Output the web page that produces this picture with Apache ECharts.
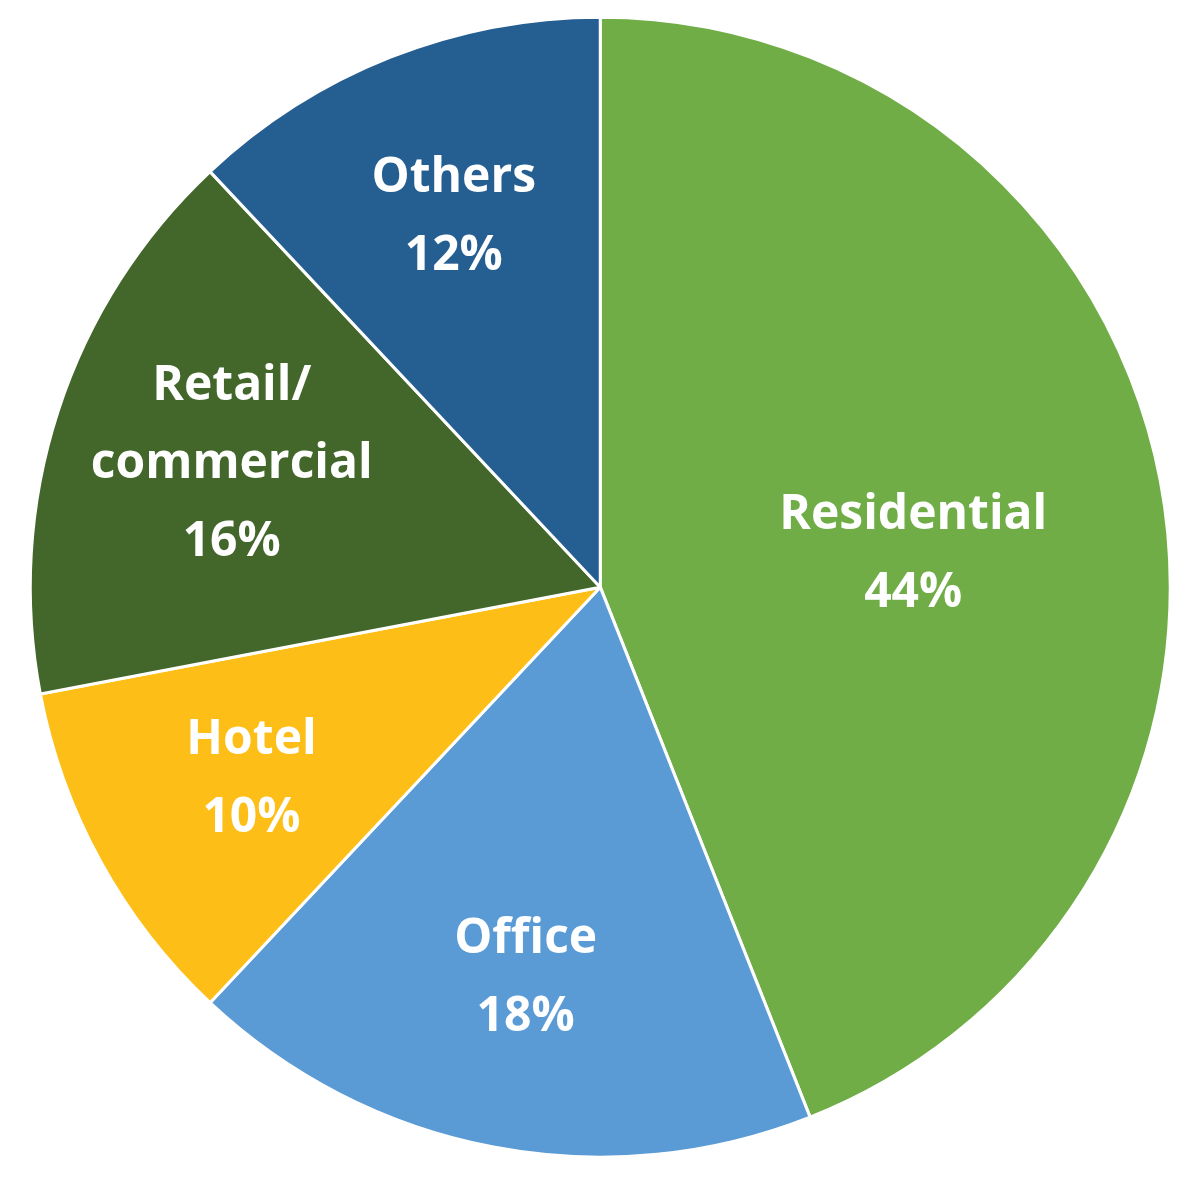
<!DOCTYPE html>
<html>
<head>
    <meta charset="utf-8">
    <script src="https://cdn.jsdelivr.net/npm/echarts@6/dist/echarts.min.js"></script>
    <style>html,body{margin:0;padding:0;background:#fff;}</style>
</head>
<body>
    <div id="chart" style="width:1191px;height:1191px;"></div>
    <script type="text/javascript">
        var categories = ['Residential', 'Office', 'Hotel', 'Retail/\ncommercial', 'Others'];
        var values = [44, 18, 10, 16, 12];
        var colors = ['#70AD47', '#5B9BD5', '#FDBF17', '#43672A', '#255E91'];

        var chart = echarts.init(document.getElementById('chart'));
        var center = ['50.4%', '49.3%'];

        var pieData = categories.map(function (c, i) {
            return { name: c, value: values[i], itemStyle: { color: colors[i] } };
        });
        // label-only layer so labels sit at ~0.7R
        var labelData = categories.map(function (c, i) {
            var d = { name: c, value: values[i] };
            if (i === 0) d.label = { offset: [-78, 42] };
            if (i === 3) d.label = { offset: [10, 0] };
            return d;
        });

        var option = {
            animation: false,
            series: [{
                type: 'pie',
                center: center,
                radius: [0, 570],
                startAngle: 90,
                clockwise: true,
                data: pieData,
                itemStyle: { borderColor: '#fff', borderWidth: 3 },
                label: { show: false },
                labelLine: { show: false }
            }, {
                type: 'pie',
                center: center,
                radius: [0, 790],
                startAngle: 90,
                clockwise: true,
                silent: true,
                data: labelData,
                itemStyle: { color: 'rgba(0,0,0,0)', borderWidth: 0 },
                label: {
                    show: true,
                    position: 'inside',
                    formatter: function (p) { return p.name + '\n' + p.value + '%'; },
                    color: '#fff',
                    fontFamily: 'Open Sans',
                    fontWeight: 'bold',
                    fontSize: 48,
                    lineHeight: 78
                },
                labelLine: { show: false }
            }]
        };
        chart.setOption(option);
    </script>
</body>
</html>
